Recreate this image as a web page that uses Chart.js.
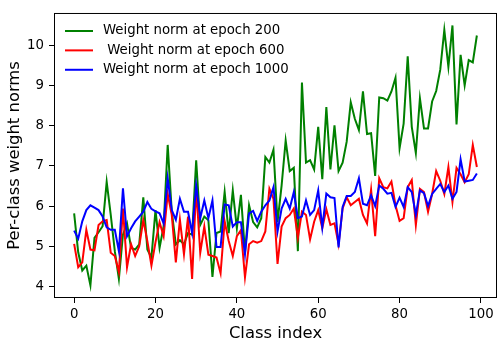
<!DOCTYPE html>
<html>
<head>
<meta charset="utf-8">
<script src="https://cdn.jsdelivr.net/npm/chart.js@4.4.1/dist/chart.umd.min.js"></script>
<style>
  html, body { margin: 0; padding: 0; background: #fff; }
  #wrap { width: 499px; height: 339px; }
</style>
</head>
<body>
<div id="wrap"><canvas id="normChart" width="499" height="339"></canvas></div>
<script>
// per-class weight norms, class index 0..99
const epoch200 = [
    5.82, 4.85, 4.40, 4.52, 4.03, 5.21, 5.35, 5.50, 6.60, 5.78,
    4.88, 4.19, 5.29, 5.57, 4.96, 4.92, 5.05, 6.22, 4.92, 4.72,
    5.90, 4.96, 5.50, 7.52, 5.86, 5.05, 5.15, 5.05, 5.33, 5.29,
    7.14, 5.53, 5.74, 5.65, 4.24, 5.33, 5.37, 6.35, 5.33, 6.39,
    5.45, 6.28, 4.85, 6.02, 5.60, 5.47, 5.70, 7.22, 7.08, 7.40,
    5.60, 6.51, 7.63, 6.87, 6.95, 4.88, 9.07, 7.08, 7.14, 6.91,
    7.97, 6.67, 8.46, 6.91, 8.01, 6.87, 7.08, 7.60, 8.58, 8.17,
    7.89, 8.85, 7.79, 7.81, 6.75, 8.70, 8.68, 8.62, 8.85, 9.19,
    7.44, 8.05, 9.72, 7.97, 7.32, 8.68, 7.93, 7.93, 8.60, 8.86,
    9.39, 10.38, 9.46, 10.49, 8.03, 9.76, 9.00, 9.63, 9.57, 10.24,
];
const epoch600 = [
    5.06, 4.48, 4.60, 5.41, 4.92, 4.90, 5.53, 5.62, 5.65, 4.84,
    4.76, 4.36, 5.94, 4.48, 5.05, 4.76, 5.00, 5.65, 5.13, 4.52,
    5.10, 5.60, 5.25, 6.30, 5.78, 4.60, 5.66, 4.80, 5.74, 4.19,
    6.45, 4.84, 5.49, 4.79, 4.76, 4.72, 4.33, 5.62, 5.13, 4.76,
    5.25, 5.40, 4.23, 5.05, 5.13, 5.09, 5.13, 5.37, 6.43, 6.18,
    4.56, 5.49, 5.70, 5.78, 5.94, 5.21, 5.86, 5.78, 5.17, 5.61,
    5.90, 5.45, 5.92, 5.53, 5.57, 5.05, 5.94, 6.22, 6.02, 6.10,
    6.18, 5.78, 5.57, 6.41, 5.25, 6.69, 6.47, 6.44, 6.61, 6.02,
    5.63, 5.70, 6.47, 6.65, 5.53, 6.43, 6.35, 5.86, 6.30, 6.87,
    6.63, 6.30, 6.97, 6.10, 6.95, 6.79, 6.59, 6.79, 7.52, 6.97,
];
const epoch1000 = [
    5.39, 5.19, 5.62, 5.90, 6.02, 5.96, 5.90, 5.74, 5.47, 5.41,
    5.41, 4.88, 6.44, 5.25, 5.45, 5.62, 5.74, 5.86, 6.10, 5.93,
    5.87, 5.82, 5.57, 6.69, 5.90, 5.66, 6.18, 5.86, 5.86, 5.33,
    6.51, 5.70, 6.14, 5.70, 6.14, 4.98, 4.98, 6.04, 6.02, 5.49,
    5.60, 5.60, 4.80, 5.82, 5.88, 5.63, 5.86, 6.02, 6.14, 6.47,
    5.37, 5.94, 6.18, 5.94, 6.35, 5.70, 5.74, 6.14, 5.78, 5.90,
    6.39, 5.47, 6.31, 6.22, 6.20, 4.97, 5.98, 6.25, 6.25, 6.35,
    6.69, 6.06, 6.02, 6.27, 6.00, 6.51, 6.43, 6.31, 6.33, 5.98,
    6.21, 5.98, 6.47, 6.35, 5.78, 6.39, 6.32, 6.00, 6.30, 6.43,
    6.55, 6.35, 6.51, 6.18, 6.35, 7.16, 6.61, 6.63, 6.65, 6.81,
];
const seriesLabels = ["Weight norm at epoch 200", " Weight norm at epoch 600", "Weight norm at epoch 1000"];
const seriesColors = ["#008000", "#ff0000", "#0000ff"];
const xTicks = [0, 20, 40, 60, 80, 100];
const yTicks = [4, 5, 6, 7, 8, 9, 10];

const FONT = "'DejaVu Sans', sans-serif";

function toPoints(values) {
    return values.map((v, i) => ({ x: i, y: v }));
}

// matplotlib-style frame around the plot area
const framePlugin = {
    id: "frame",
    afterDraw(chart) {
        const { ctx, chartArea: a } = chart;
        ctx.save();
        ctx.strokeStyle = "#000";
        ctx.lineWidth = 1;
        ctx.strokeRect(a.left + 0.5, a.top + 0.5, a.right - a.left - 1, a.bottom - a.top - 1);
        ctx.restore();
    },
};

// frameless legend in the upper-left corner of the plot
const insideLegend = {
    id: "insideLegend",
    afterDraw(chart) {
        const { ctx, chartArea: a } = chart;
        const x0 = a.left + 5;
        const y0 = a.top + 5;
        ctx.save();
        ctx.font = "13.3px " + FONT;
        ctx.textBaseline = "middle";
        chart.data.datasets.forEach((ds, i) => {
            const y = y0 + 13 + i * 19.4;
            ctx.strokeStyle = ds.borderColor;
            ctx.lineWidth = 2;
            ctx.beginPath();
            ctx.moveTo(x0 + 6, y);
            ctx.lineTo(x0 + 34, y);
            ctx.stroke();
            ctx.fillStyle = "#000";
            ctx.fillText(ds.label, x0 + 44, y);
        });
        ctx.restore();
    },
};

const ctx = document.getElementById("normChart").getContext("2d");
new Chart(ctx, {
    type: "line",
    data: {
        datasets: [epoch200, epoch600, epoch1000].map((vals, i) => ({
            label: seriesLabels[i],
            data: toPoints(vals),
            borderColor: seriesColors[i],
            backgroundColor: seriesColors[i],
            borderWidth: 2,
            pointRadius: 0,
            tension: 0,
            fill: false,
            order: 3 - i,
        })),
    },
    options: {
        responsive: false,
        animation: false,
        devicePixelRatio: 1,
        layout: { padding: { top: 7, right: 2, left: 0, bottom: 0 } },
        plugins: {
            legend: { display: false },
            tooltip: { enabled: false },
        },
        scales: {
            x: {
                type: "linear",
                min: -4.95,
                max: 103.95,
                afterBuildTicks: (scale) => {
                    scale.ticks = xTicks.map((v) => ({ value: v }));
                },
                afterFit: (scale) => {
                    scale.height = 41;
                },
                grid: {
                    drawOnChartArea: false,
                    drawTicks: true,
                    tickLength: 5,
                    tickColor: "#000",
                    color: "#000",
                },
                border: { display: false },
                ticks: {
                    color: "#000",
                    font: { family: FONT, size: 13.3 },
                    padding: 4,
                    maxRotation: 0,
                    autoSkip: false,
                },
                title: {
                    display: true,
                    text: "Class index",
                    color: "#000",
                    font: { family: FONT, size: 16.4 },
                    padding: { top: 0, bottom: -4.5 },
                },
            },
            y: {
                type: "linear",
                min: 3.715,
                max: 10.8,
                afterBuildTicks: (scale) => {
                    scale.ticks = yTicks.map((v) => ({ value: v }));
                },
                afterFit: (scale) => {
                    scale.width = 54;
                },
                grid: {
                    drawOnChartArea: false,
                    drawTicks: true,
                    tickLength: 5,
                    tickColor: "#000",
                    color: "#000",
                },
                border: { display: false },
                ticks: {
                    color: "#000",
                    font: { family: FONT, size: 13.3 },
                    padding: 5,
                    autoSkip: false,
                },
                title: {
                    display: true,
                    text: "Per-class weight norms",
                    color: "#000",
                    font: { family: FONT, size: 16.4 },
                    padding: { top: 5, bottom: 0 },
                },
            },
        },
    },
    plugins: [framePlugin, insideLegend],
});
</script>
</body>
</html>
